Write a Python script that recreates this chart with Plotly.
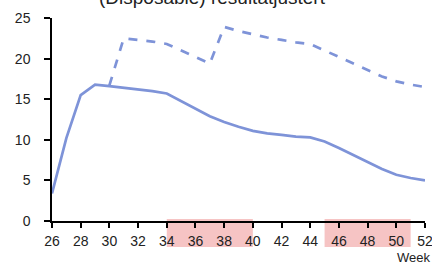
import plotly.graph_objects as go

weeks = list(range(26, 53))
solid_values = [3.4, 10.2, 15.5, 16.8, 16.6, 16.4, 16.2, 16.0, 15.7, 14.8, 13.8, 12.9, 12.2,
                11.6, 11.1, 10.8, 10.6, 10.4, 10.3, 9.8, 9.0, 8.1, 7.2, 6.4, 5.7, 5.3, 5.0]
dashed_weeks = list(range(30, 53))
dashed_values = [16.7, 22.5, 22.3, 22.1, 21.8, 21.0, 20.2, 19.4, 23.9, 23.4, 23.0, 22.6, 22.3,
                 22.0, 21.8, 21.0, 20.3, 19.4, 18.6, 17.8, 17.2, 16.8, 16.5]
band_starts = [34, 45]
band_ends = [40, 51]
x_ticks = list(range(26, 53, 2))
y_ticks = [0, 5, 10, 15, 20, 25]
title_text = "(Disposable) resultatjustert"
x_title = "Week"

line_color = "#7e93d8"

fig = go.Figure()
fig.add_trace(go.Scatter(x=dashed_weeks, y=dashed_values, mode="lines",
                         line=dict(color=line_color, width=2.7, dash="dash"), hoverinfo="skip"))
fig.add_trace(go.Scatter(x=weeks, y=solid_values, mode="lines",
                         line=dict(color=line_color, width=2.7), hoverinfo="skip"))

for s, e in zip(band_starts, band_ends):
    fig.add_shape(type="rect", xref="x", yref="paper", x0=s, x1=e, y0=-0.128, y1=0.01,
                  fillcolor="#f6c4c4", line_width=0, layer="below")

fig.add_annotation(text=title_text, xref="paper", yref="paper", x=0.43, y=1.04,
                   xanchor="center", yanchor="bottom", showarrow=False,
                   font=dict(family="Liberation Sans, Arial", size=19, color="#222"))
fig.add_annotation(text=x_title, xref="paper", yref="paper", x=1.02, y=-0.135,
                   xanchor="right", yanchor="top", showarrow=False,
                   font=dict(family="Liberation Sans, Arial", size=13, color="#222"))

fig.update_layout(
    width=432, height=265,
    margin=dict(l=52, r=7, t=18, b=44, autoexpand=False),
    paper_bgcolor="white", plot_bgcolor="white",
    showlegend=False,
    font=dict(family="Liberation Sans, Arial", size=14, color="#222"),
    xaxis=dict(range=[26, 52], tickvals=x_ticks, showgrid=False, zeroline=False,
               showline=True, linecolor="black", linewidth=1.5, ticks="outside",
               ticklen=5, tickcolor="black", tickwidth=1.5, ticklabelstandoff=1,
               ticklabeloverflow="allow"),
    yaxis=dict(range=[0, 25], tickvals=y_ticks, showgrid=False, zeroline=False,
               showline=True, linecolor="black", linewidth=1.5, ticks="outside",
               ticklen=6, tickcolor="black", tickwidth=1.5, ticklabelstandoff=11),
)

fig.write_html("out.html", config={"displayModeBar": False},
               post_script="document.body.style.margin='0';document.body.style.overflow='hidden';")
